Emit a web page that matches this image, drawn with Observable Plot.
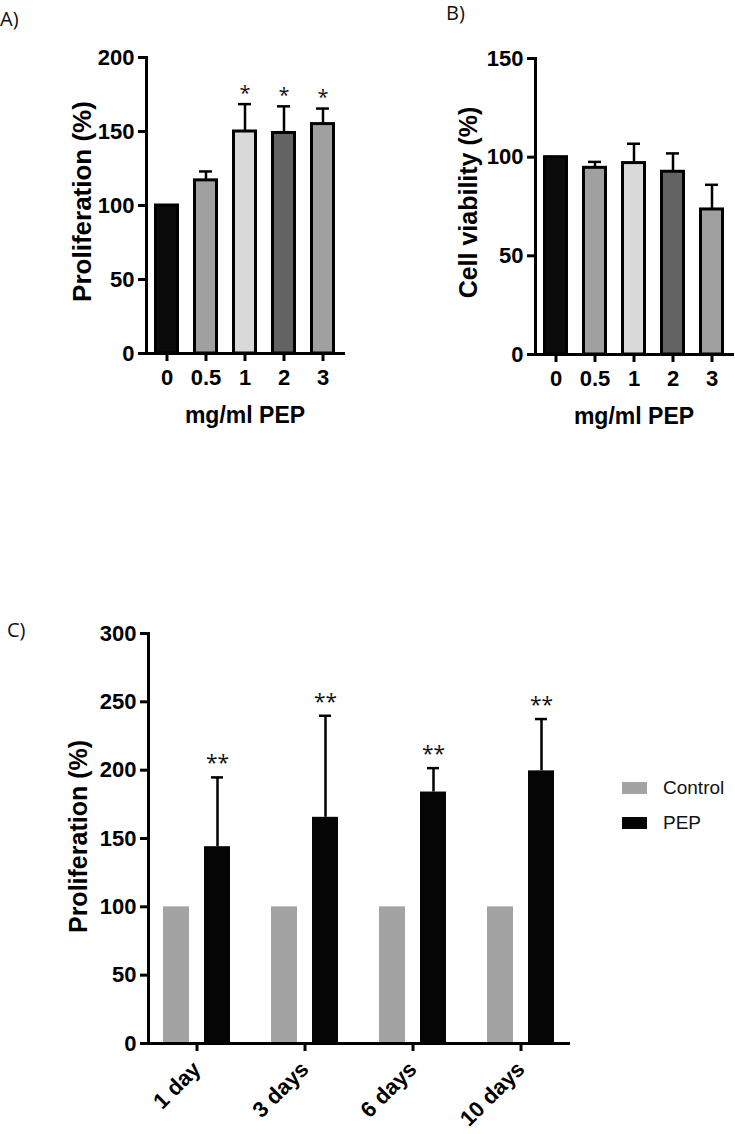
<!DOCTYPE html>
<html><head><meta charset="utf-8">
<script src="https://cdn.jsdelivr.net/npm/d3@7"></script>
<script src="https://cdn.jsdelivr.net/npm/@observablehq/plot@0.6"></script>
<style>
body{margin:0;background:#fff;}
#root{position:relative;width:735px;height:1134px;overflow:hidden;background:#fff;color:#000;font-family:"Liberation Sans",Arial,sans-serif;}
.panel{position:absolute;}
.tag{position:absolute;font-family:"Open Sans",sans-serif;font-size:20px;line-height:20px;color:#111;}
#legend{position:absolute;left:622px;top:777px;}
#legend .lg-swatch{margin-bottom:12px;align-items:center;}
#legend .lg-swatch svg{margin-right:16px;}
</style></head><body><div id="root"></div>
<script>
// ---- Panel A / B data ----
const doseLabels = ["0", "0.5", "1", "2", "3"];
const proliferationMean = [100, 117, 150, 149, 155];
const proliferationErr = [0, 6, 18.5, 18, 10.5];
const proliferationSig = ["", "", "*", "*", "*"];
const viabilityMean = [100, 94.6, 97, 92.6, 73.5];
const viabilityErr = [0, 3, 9.8, 9.3, 12.5];
const viabilitySig = ["", "", "", "", ""];
const barFills = ["#0b0b0b", "#a0a0a0", "#d9d9d9", "#636363", "#a0a0a0"];

// ---- Panel C data ----
const days = ["1 day", "3 days", "6 days", "10 days"];
const controlMean = [100, 100, 100, 100];
const pepMean = [144, 165.5, 184, 199.5];
const pepErr = [50.7, 74.3, 17.5, 37.9];
const pepSig = ["**", "**", "**", "**"];
const seriesNames = ["Control", "PEP"];
const seriesColors = ["#a3a3a3", "#050505"];

const AXIS_FONT = "Liberation Sans, Arial, sans-serif";
const STAR_FONT = "Open Sans, sans-serif";

function dosePanel({means, errs, sig, yMax, yTicks, yLabel, width, height, mt, mb, ml, mr, labelDx, labelSize}) {
  const rows = doseLabels.map((d, i) => ({dose: d, mean: means[i], err: errs[i], top: means[i] + errs[i], sig: sig[i]}));
  const withErr = rows.filter(r => r.err > 0);
  return Plot.plot({
    width, height, marginTop: mt, marginBottom: mb, marginLeft: ml, marginRight: mr,
    style: {fontFamily: AXIS_FONT, background: "transparent", color: "#000", overflow: "visible"},
    x: {domain: doseLabels, paddingInner: 0.36, paddingOuter: 0.18},
    y: {domain: [0, yMax]},
    color: {domain: doseLabels, range: barFills},
    marks: [
      Plot.ruleX(withErr, {x: "dose", y1: "mean", y2: "top", stroke: "#000", strokeWidth: 2.5}),
      Plot.tickY(withErr, {x: "dose", y: "top", stroke: "#000", strokeWidth: 2.5, insetLeft: 6, insetRight: 6}),
      Plot.barY(rows, {x: "dose", y: "mean", fill: "dose", stroke: "#000", strokeWidth: 3, insetLeft: 1.5, insetRight: 1.5}),
      Plot.text(rows.filter(r => r.sig), {x: "dose", y: "top", text: "sig", dy: -11, fontSize: 20, fontFamily: STAR_FONT, fill: "#111"}),
      Plot.axisY({ticks: yTicks, tickSize: 8, tickPadding: 4, strokeWidth: 3, fontSize: 22, fontWeight: "bold", label: null}),
      Plot.axisX({tickSize: 8, tickPadding: 8, strokeWidth: 3, fontSize: 22, fontWeight: "bold", label: null}),
      Plot.frame({anchor: "left", strokeWidth: 3}),
      Plot.frame({anchor: "bottom", strokeWidth: 3}),
      Plot.text([yLabel], {text: d => d, frameAnchor: "left", textAnchor: "middle", lineAnchor: "middle", rotate: -90, dx: labelDx, dy: -4, fontSize: labelSize, fontWeight: "bold"}),
      Plot.text(["mg/ml PEP"], {text: d => d, frameAnchor: "bottom", textAnchor: "middle", lineAnchor: "middle", dy: 62, fontSize: 23, fontWeight: "bold"})
    ]
  });
}

function timePanel() {
  const ctrl = days.map((d, i) => ({day: d, series: seriesNames[0], mean: controlMean[i]}));
  const pep = days.map((d, i) => ({day: d, series: seriesNames[1], mean: pepMean[i], top: pepMean[i] + pepErr[i], sig: pepSig[i]}));
  return Plot.plot({
    width: 735, height: 534, marginTop: 33, marginBottom: 91, marginLeft: 148, marginRight: 167,
    style: {fontFamily: AXIS_FONT, background: "transparent", color: "#000", overflow: "visible"},
    x: {domain: days, paddingInner: 0.38, paddingOuter: 0.134},
    y: {domain: [0, 300]},
    color: {domain: seriesNames, range: seriesColors},
    marks: [
      Plot.barY(ctrl, {x: "day", y: "mean", fill: "series", insetRight: 41}),
      Plot.barY(pep, {x: "day", y: "mean", fill: "series", insetLeft: 41}),
      Plot.ruleX(pep, {x: "day", y1: "mean", y2: "top", dx: 20.5, stroke: "#000", strokeWidth: 2.5}),
      Plot.tickY(pep, {x: "day", y: "top", dx: 20.5, insetLeft: 27.5, insetRight: 27.5, stroke: "#000", strokeWidth: 2.5}),
      Plot.text(pep, {x: "day", y: "top", text: "sig", dx: 20.5, dy: -14, fontSize: 21, fontFamily: STAR_FONT, fill: "#111"}),
      Plot.axisY({ticks: [0, 50, 100, 150, 200, 250, 300], tickSize: 8, tickPadding: 4, strokeWidth: 3, fontSize: 22, fontWeight: "bold", label: null}),
      Plot.axisX({tickSize: 8, tickPadding: 14, tickRotate: -45, strokeWidth: 3, fontSize: 22, fontWeight: "bold", label: null}),
      Plot.frame({anchor: "left", strokeWidth: 3}),
      Plot.frame({anchor: "bottom", strokeWidth: 3}),
      Plot.text(["Proliferation (%)"], {text: d => d, frameAnchor: "left", textAnchor: "middle", lineAnchor: "middle", rotate: -90, dx: -70, dy: -2, fontSize: 25, fontWeight: "bold"})
    ]
  });
}

const root = document.getElementById("root");
function place(node, left, top) {
  node.classList.add("panel");
  node.style.position = "absolute";
  node.style.left = left + "px";
  node.style.top = top + "px";
  root.appendChild(node);
}

place(dosePanel({means: proliferationMean, errs: proliferationErr, sig: proliferationSig, yMax: 200, yTicks: [0, 50, 100, 150, 200],
  yLabel: "Proliferation (%)", width: 360, height: 430, mt: 57, mb: 77, ml: 146, mr: 17, labelDx: -64, labelSize: 26}), 0, 0);
place(dosePanel({means: viabilityMean, errs: viabilityErr, sig: viabilitySig, yMax: 150, yTicks: [0, 50, 100, 150],
  yLabel: "Cell viability (%)", width: 375, height: 430, mt: 58, mb: 76, ml: 175, mr: 3, labelDx: -67, labelSize: 25}), 360, 0);
place(timePanel(), 0, 600);

const legend = Plot.legend({
  color: {domain: seriesNames, range: seriesColors},
  legend: "swatches", columns: 1, swatchWidth: 25, swatchHeight: 12, className: "lg",
  style: {fontSize: "19px", fontFamily: AXIS_FONT, color: "#111"}
});
legend.id = "legend";
root.appendChild(legend);

for (const [t, x, y] of [["A)", 0, 9], ["B)", 446, 3], ["C)", 7, 620]]) {
  const d = document.createElement("div");
  d.className = "tag";
  d.textContent = t;
  d.style.left = x + "px";
  d.style.top = y + "px";
  root.appendChild(d);
}
</script></body></html>
